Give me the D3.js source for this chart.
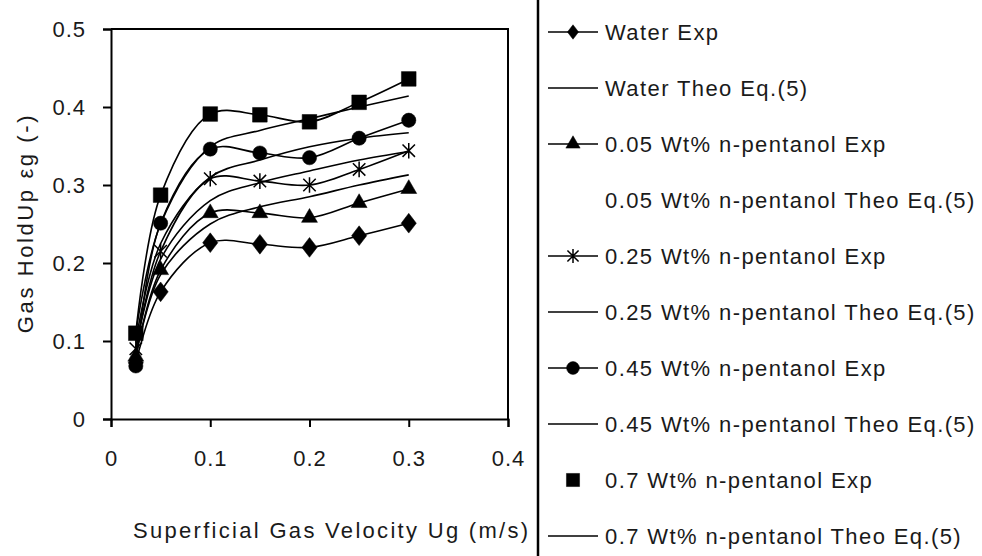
<!DOCTYPE html>
<html>
<head>
<meta charset="utf-8">
<script src="https://cdn.jsdelivr.net/npm/d3@7"></script>
<style>
  body { margin: 0; background: #fff; }
  text { font-family: "Liberation Sans", Arial, sans-serif; fill: #1a1a1a; }
</style>
</head>
<body>
<svg id="chart" width="982" height="556"></svg>
<script>
// gas velocity points (m/s)
const ugPoints = [0.025, 0.05, 0.1, 0.15, 0.2, 0.25, 0.3];

// experimental gas holdup
const waterExp = [0.072, 0.163, 0.226, 0.224, 0.220, 0.235, 0.251];
const pent005Exp = [0.080, 0.191, 0.264, 0.264, 0.258, 0.277, 0.295];
const pent025Exp = [0.090, 0.215, 0.308, 0.305, 0.300, 0.320, 0.344];
const pent045Exp = [0.068, 0.251, 0.346, 0.341, 0.335, 0.360, 0.383];
const pent07Exp  = [0.110, 0.287, 0.391, 0.390, 0.381, 0.406, 0.436];

// theoretical gas holdup, Eq.(5)
const waterTheo = [0.080, 0.185, 0.250, 0.272, 0.285, 0.300, 0.313];
const pent005Theo = [];
const pent025Theo = [0.090, 0.205, 0.280, 0.303, 0.318, 0.332, 0.343];
const pent045Theo = [0.100, 0.225, 0.310, 0.332, 0.349, 0.360, 0.367];
const pent07Theo  = [0.110, 0.250, 0.349, 0.370, 0.385, 0.400, 0.414];

const xTicks = [0, 0.1, 0.2, 0.3, 0.4];
const yTicks = [0, 0.1, 0.2, 0.3, 0.4, 0.5];

const legendLabels = [
  "Water Exp",
  "Water Theo Eq.(5)",
  "0.05 Wt% n-pentanol Exp",
  "0.05 Wt% n-pentanol Theo Eq.(5)",
  "0.25 Wt% n-pentanol Exp",
  "0.25 Wt% n-pentanol Theo Eq.(5)",
  "0.45 Wt% n-pentanol Exp",
  "0.45 Wt% n-pentanol Theo Eq.(5)",
  "0.7 Wt% n-pentanol Exp",
  "0.7 Wt% n-pentanol Theo Eq.(5)"
];

// custom marker shapes (Excel-like)
const diamond = {
  draw(ctx, size) {
    const w = Math.sqrt(size) * 0.62, h = w * 1.3;
    ctx.moveTo(0, -h); ctx.lineTo(w, 0); ctx.lineTo(0, h); ctx.lineTo(-w, 0); ctx.closePath();
  }
};
const star = {
  draw(ctx, size) {
    const r = Math.sqrt(size) * 0.55;
    ctx.moveTo(0, -r); ctx.lineTo(0, r);
    ctx.moveTo(-r * 0.8, -r * 0.8); ctx.lineTo(r * 0.8, r * 0.8);
    ctx.moveTo(-r * 0.8, r * 0.8); ctx.lineTo(r * 0.8, -r * 0.8);
  }
};

const series = [
  { label: legendLabels[0], values: waterExp,    marker: diamond,          size: 150, line: true },
  { label: legendLabels[1], values: waterTheo,   marker: null,             line: true },
  { label: legendLabels[2], values: pent005Exp,  marker: d3.symbolTriangle, size: 110, line: true },
  { label: legendLabels[3], values: pent005Theo, marker: null,             line: false },
  { label: legendLabels[4], values: pent025Exp,  marker: star,             size: 200, line: true },
  { label: legendLabels[5], values: pent025Theo, marker: null,             line: true },
  { label: legendLabels[6], values: pent045Exp,  marker: d3.symbolCircle,   size: 160, line: true },
  { label: legendLabels[7], values: pent045Theo, marker: null,             line: true },
  { label: legendLabels[8], values: pent07Exp,   marker: d3.symbolSquare,   size: 215, line: true, legendLine: false },
  { label: legendLabels[9], values: pent07Theo,  marker: null,             line: true }
];

const svg = d3.select("#chart");
svg.append("rect").attr("width", 982).attr("height", 556).attr("fill", "#fff");

const plot = { left: 111, right: 508, top: 29, bottom: 419 };

const x = d3.scaleLinear().domain([0, 0.4]).range([plot.left, plot.right]);
const y = d3.scaleLinear().domain([0, 0.5]).range([plot.bottom, plot.top]);

// plot frame (top and right)
svg.append("path")
  .attr("d", `M${plot.left},${plot.top}H${plot.right}V${plot.bottom}`)
  .attr("fill", "none").attr("stroke", "#000").attr("stroke-width", 2);

// axes
const xAxis = svg.append("g")
  .attr("transform", `translate(0,${plot.bottom})`)
  .call(d3.axisBottom(x).tickValues(xTicks).tickSize(8).tickFormat(d => d === 0 ? "0" : d3.format(".1f")(d)));
const yAxis = svg.append("g")
  .attr("transform", `translate(${plot.left},0)`)
  .call(d3.axisLeft(y).tickValues(yTicks).tickSize(8).tickFormat(d => d === 0 ? "0" : d3.format(".1f")(d)));

[xAxis, yAxis].forEach(a => {
  a.select(".domain").attr("stroke", "#000").attr("stroke-width", 2);
  a.selectAll(".tick line").attr("stroke", "#000").attr("stroke-width", 2);
  a.selectAll(".tick text")
    .attr("fill", "#1a1a1a")
    .style("font-family", "'Liberation Sans', Arial, sans-serif")
    .style("font-size", "22px")
    .style("letter-spacing", "1px");
});
xAxis.selectAll(".tick text").attr("y", 31).attr("dy", "0.71em");
yAxis.selectAll(".tick text").attr("x", -25);

// axis titles
svg.append("text")
  .attr("x", 133).attr("y", 538)
  .style("font-size", "22px").style("letter-spacing", "2.3px")
  .text("Superficial Gas Velocity Ug (m/s)");

svg.append("text")
  .attr("transform", "translate(33,223) rotate(-90)")
  .attr("text-anchor", "middle")
  .style("font-size", "22px").style("letter-spacing", "2.6px")
  .text("Gas HoldUp \u03b5g (-)");

// series lines
const lineGen = d3.line()
  .x((d, i) => x(ugPoints[i]))
  .y(d => y(d))
  .curve(d3.curveCatmullRom.alpha(0.5));

const linesG = svg.append("g");
series.filter(s => s.line && s.values.length).forEach(s => {
  linesG.append("path")
    .attr("d", lineGen(s.values))
    .attr("fill", "none")
    .attr("stroke", "#000")
    .attr("stroke-width", 1.6);
});

// markers
const markG = svg.append("g");
series.filter(s => s.marker).forEach(s => {
  const isStar = s.marker === star;
  markG.selectAll(null)
    .data(s.values)
    .enter().append("path")
      .attr("transform", (d, i) => `translate(${x(ugPoints[i])},${y(d)})`)
      .attr("d", d3.symbol().type(s.marker).size(s.size))
      .attr("fill", isStar ? "none" : "#000")
      .attr("stroke", "#000")
      .attr("stroke-width", isStar ? 1.5 : 0.5);
});

// divider
svg.append("line")
  .attr("x1", 538).attr("x2", 538).attr("y1", 0).attr("y2", 556)
  .attr("stroke", "#000").attr("stroke-width", 2.5);

// legend
const legend = svg.append("g").attr("transform", "translate(548,32)");
const rowH = 56;
series.forEach((s, i) => {
  const row = legend.append("g").attr("transform", `translate(0,${i * rowH})`);
  if (s.line && s.legendLine !== false) {
    row.append("line").attr("x1", 0).attr("x2", 50).attr("y1", 0).attr("y2", 0)
      .attr("stroke", "#000").attr("stroke-width", 1.6);
  }
  if (s.marker) {
    const isStar = s.marker === star;
    row.append("path")
      .attr("transform", "translate(25,0)")
      .attr("d", d3.symbol().type(s.marker).size(s.marker === diamond ? 80 : s.size * 0.8))
      .attr("fill", isStar ? "none" : "#000")
      .attr("stroke", "#000")
      .attr("stroke-width", isStar ? 1.5 : 0.5);
  }
  row.append("text")
    .attr("x", 57).attr("y", 8)
    .style("font-size", "22px").style("letter-spacing", "1.4px")
    .text(s.label);
});
</script>
</body>
</html>
